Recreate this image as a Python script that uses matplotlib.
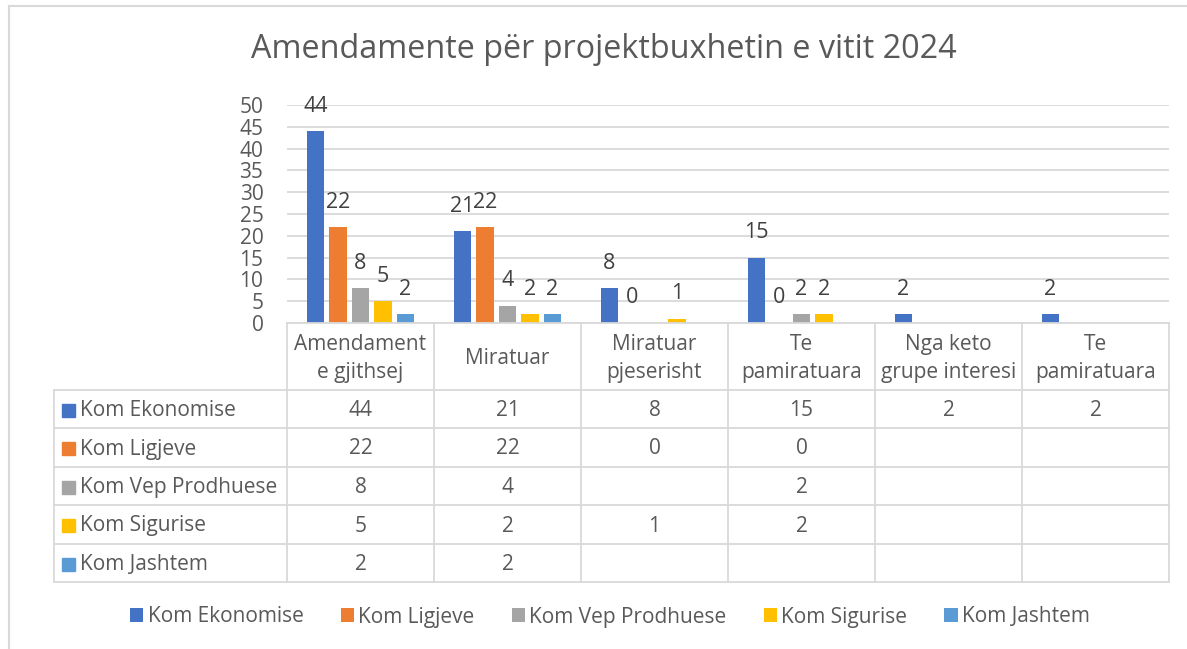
import numpy as np
import matplotlib
matplotlib.use("Agg")
import matplotlib.pyplot as plt
from matplotlib.patches import Patch
from matplotlib.lines import Line2D

plt.rcParams['font.family'] = ['Open Sans', 'DejaVu Sans']

# ---------------- data ----------------
title = "Amendamente për projektbuxhetin e vitit 2024"
categories = ["Amendament\ne gjithsej", "Miratuar", "Miratuar\npjeserisht",
              "Te\npamiratuara", "Nga keto\ngrupe interesi", "Te\npamiratuara"]
series_names = ["Kom Ekonomise", "Kom Ligjeve", "Kom Vep Prodhuese",
                "Kom Sigurise", "Kom Jashtem"]
kom_ekonomise = [44, 21, 8, 15, 2, 2]
kom_ligjeve = [22, 22, 0, 0, np.nan, np.nan]
kom_vep_prodhuese = [8, 4, np.nan, 2, np.nan, np.nan]
kom_sigurise = [5, 2, 1, 2, np.nan, np.nan]
kom_jashtem = [2, 2, np.nan, np.nan, np.nan, np.nan]
series_values = [kom_ekonomise, kom_ligjeve, kom_vep_prodhuese, kom_sigurise, kom_jashtem]
colors = ["#4472C4", "#ED7D31", "#A5A5A5", "#FFC000", "#5B9BD5"]
yticks = [0, 5, 10, 15, 20, 25, 30, 35, 40, 45, 50]

# ---------------- layout (pixels) ----------------
W, H = 1187, 649
TXT = "#595959"
GRID = "#D9D9D9"
FS = 15
plot_l, plot_r, plot_t, plot_b = 287, 1169, 105, 323
tab_l, tab_b = 54, 582
row_lines = [323, 390, 428, 467, 505, 544, 582]

fig = plt.figure(figsize=(W / 100, H / 100), dpi=100)
fig.patch.set_facecolor("white")

def fx(px):
    return px / W

def fy(py):
    return 1 - py / H

# outer chart border (top and left)
fig.add_artist(Line2D([fx(9), fx(9)], [fy(6), fy(H + 5)], color=GRID, lw=1.5))
fig.add_artist(Line2D([fx(9), fx(W + 5)], [fy(6), fy(6)], color=GRID, lw=1.5))

# title
fig.text(fx(604), fy(50), title, ha="center", va="center", fontsize=23.3, color=TXT)

# ---------------- bar axes ----------------
ax = fig.add_axes([fx(plot_l), fy(plot_b), fx(plot_r - plot_l), (plot_b - plot_t) / H])
n = len(categories)
x = np.arange(n)
cat_px = (plot_r - plot_l) / n
slot = 22.5 / cat_px
bw = 17.5 / cat_px
for i, (name, vals, c) in enumerate(zip(series_names, series_values, colors)):
    xs = x + (i - 2) * slot
    ax.bar(xs, np.nan_to_num(vals), width=bw, color=c, zorder=3)
    for xi, v in zip(xs, vals):
        if np.isnan(v):
            continue
        ax.annotate(f"{int(v)}", (xi, v), xytext=(0, 18), textcoords="offset points",
                    ha="center", va="center", fontsize=15.5, color="#404040")
ax.set_xlim(-0.5, n - 0.5)
ax.set_ylim(0, 50)
ax.set_yticks(yticks)
ax.set_xticks([])
ax.tick_params(axis="y", length=0, pad=17, labelsize=FS, labelcolor=TXT)
for s in ax.spines.values():
    s.set_visible(False)
ax.yaxis.grid(True, color=GRID, lw=1.3, zorder=0)
ax.set_axisbelow(True)
ax.patch.set_alpha(0)

# ---------------- data table ----------------
tax = fig.add_axes([fx(tab_l), fy(tab_b), fx(plot_r - tab_l), (tab_b - plot_b) / H])
left_units = (plot_l - tab_l) / cat_px
tax.set_xlim(-0.5 - left_units, n - 0.5)
tax.set_ylim(tab_b, plot_b)
tax.axis("off")
lw = 1.3
tax.plot([-0.5, n - 0.5], [row_lines[0]] * 2, color=GRID, lw=lw, clip_on=False)
for ry in row_lines[1:]:
    tax.plot([-0.5 - left_units, n - 0.5], [ry] * 2, color=GRID, lw=lw, clip_on=False)
for k in range(n + 1):
    tax.plot([k - 0.5] * 2, [row_lines[0], row_lines[-1]], color=GRID, lw=lw, clip_on=False)
tax.plot([-0.5 - left_units] * 2, [row_lines[1], row_lines[-1]], color=GRID, lw=lw, clip_on=False)

hy = (row_lines[0] + row_lines[1]) / 2 + 2
for k, cat in enumerate(categories):
    tax.text(k, hy, cat, ha="center", va="center", fontsize=FS, color=TXT, linespacing=1.4)

sq_w = 13 / cat_px
for r, (name, vals, c) in enumerate(zip(series_names, series_values, colors)):
    cy = (row_lines[r + 1] + row_lines[r + 2]) / 2 + 1.5
    x0 = -0.5 - left_units + 8 / cat_px
    tax.add_patch(plt.Rectangle((x0, cy - 7), sq_w, 13, color=c, clip_on=False))
    tax.text(x0 + sq_w + 5 / cat_px, cy, name, ha="left", va="center", fontsize=FS, color=TXT)
    for k, v in enumerate(vals):
        if np.isnan(v):
            continue
        tax.text(k, cy, f"{int(v)}", ha="center", va="center", fontsize=FS, color=TXT)

# ---------------- legend ----------------
handles = [Patch(facecolor=c, edgecolor="none", label=nm) for nm, c in zip(series_names, colors)]
leg = fig.legend(handles=handles, loc="center", bbox_to_anchor=(fx(610), fy(617)), ncol=5,
                 frameon=False, fontsize=FS, handlelength=0.65, handleheight=0.65,
                 handletextpad=0.2, columnspacing=1.78)
for t in leg.get_texts():
    t.set_color(TXT)

fig.savefig("out.png", dpi=100, facecolor="white")
